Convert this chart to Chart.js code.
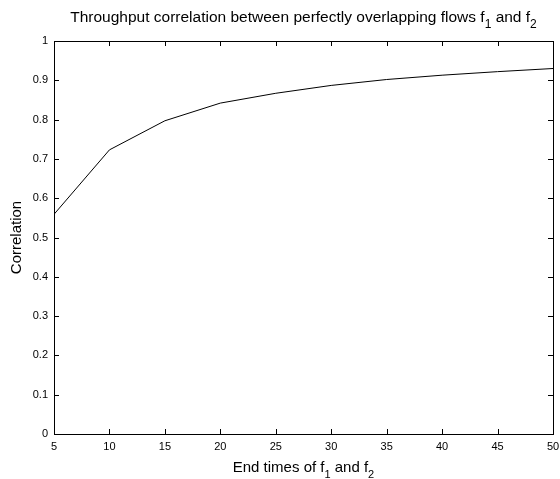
<!DOCTYPE html>
<html>
<head>
<meta charset="utf-8">
<script src="https://cdn.jsdelivr.net/npm/chart.js@4/dist/chart.umd.min.js"></script>
<style>
  html, body { margin: 0; padding: 0; background: #fff; }
  #wrap { width: 560px; height: 479px; }
</style>
</head>
<body>
<div id="wrap"><canvas id="corr-chart" width="560" height="479"></canvas></div>
<script>
/************/
/*** DATA ***/
/************/

// End times of f1 and f2:
const endTimes = [5, 10, 15, 20, 25, 30, 35, 40, 45, 50];
// Throughput correlation:
const correlation = [0.559, 0.723, 0.797, 0.842, 0.867, 0.887, 0.902, 0.913, 0.922, 0.930];
// Axis ticks:
const xTicks = [5, 10, 15, 20, 25, 30, 35, 40, 45, 50];
const yTicks = [0, 0.1, 0.2, 0.3, 0.4, 0.5, 0.6, 0.7, 0.8, 0.9, 1];

const FONT = '"Liberation Sans", Arial, sans-serif';

/***************/
/*** HELPERS ***/
/***************/

// Draw a string made of [text, isSubscript] parts, centred on x:
function drawSubText(ctx, parts, x, y, size) {
    const subSize = Math.round(size * 0.75);
    let total = 0;
    parts.forEach(([t, sub]) => {
        ctx.font = (sub ? subSize : size) + 'px ' + FONT;
        total += ctx.measureText(t).width;
    });
    let cx = x - total / 2;
    ctx.textAlign = 'left';
    ctx.textBaseline = 'alphabetic';
    parts.forEach(([t, sub]) => {
        ctx.font = (sub ? subSize : size) + 'px ' + FONT;
        ctx.fillText(t, cx, sub ? y + size * 0.4 : y);
        cx += ctx.measureText(t).width;
    });
}

// Box, inward ticks and titles (MATLAB look):
const framePlugin = {
    id: 'frame',
    afterDraw(chart) {
        const {ctx, chartArea: a, scales} = chart;
        ctx.save();
        ctx.strokeStyle = '#000';
        ctx.lineWidth = 1;
        ctx.strokeRect(Math.round(a.left) + 0.5, Math.round(a.top) + 0.5,
                       Math.round(a.right - a.left), Math.round(a.bottom - a.top));
        const len = 5;
        ctx.beginPath();
        xTicks.forEach(v => {
            const px = Math.round(scales.x.getPixelForValue(v)) + 0.5;
            ctx.moveTo(px, a.bottom); ctx.lineTo(px, a.bottom - len);
            ctx.moveTo(px, a.top); ctx.lineTo(px, a.top + len);
        });
        yTicks.forEach(v => {
            const py = Math.round(scales.y.getPixelForValue(v)) + 0.5;
            ctx.moveTo(a.left, py); ctx.lineTo(a.left + len, py);
            ctx.moveTo(a.right, py); ctx.lineTo(a.right - len, py);
        });
        ctx.stroke();

        ctx.fillStyle = '#000';
        const mid = (a.left + a.right) / 2;
        drawSubText(ctx, [['Throughput correlation between perfectly overlapping flows f', false], ['1', true],
                          [' and f', false], ['2', true]], mid, 22, 15.5);
        drawSubText(ctx, [['End times of f', false], ['1', true], [' and f', false], ['2', true]], mid, 472, 15);

        ctx.translate(21, (a.top + a.bottom) / 2);
        ctx.rotate(-Math.PI / 2);
        ctx.font = '15px ' + FONT;
        ctx.textAlign = 'center';
        ctx.textBaseline = 'alphabetic';
        ctx.fillText('Correlation', 0, 0);
        ctx.restore();
    }
};

/****************/
/*** PLOTTING ***/
/****************/

const ctx = document.getElementById('corr-chart');
const chart = new Chart(ctx, {
    type: 'line',
    data: {
        datasets: [{
            data: endTimes.map((t, i) => ({x: t, y: correlation[i]})),
            borderColor: '#000',
            borderWidth: 1,
            pointRadius: 0,
            tension: 0,
            fill: false
        }]
    },
    options: {
        responsive: false,
        animation: false,
        layout: {padding: {left: 0, right: 7, top: 41, bottom: 0}},
        plugins: {legend: {display: false}, tooltip: {enabled: false}, title: {display: false}},
        scales: {
            x: {
                type: 'linear', min: 5, max: 50,
                afterBuildTicks: s => { s.ticks = xTicks.map(v => ({value: v})); },
                afterFit: s => { s.height = 45; s.paddingLeft = 0; s.paddingRight = 0; },
                grid: {display: false, drawTicks: false},
                border: {display: false},
                ticks: {color: '#000', padding: 6, font: {family: FONT, size: 11}, maxRotation: 0, autoSkip: false}
            },
            y: {
                type: 'linear', min: 0, max: 1,
                afterBuildTicks: s => { s.ticks = yTicks.map(v => ({value: v})); },
                afterFit: s => { s.width = 54; s.paddingTop = 0; s.paddingBottom = 0; },
                grid: {display: false, drawTicks: false},
                border: {display: false},
                ticks: {color: '#000', padding: 6, font: {family: FONT, size: 11}, autoSkip: false,
                        callback: v => String(Math.round(v * 10) / 10)}
            }
        }
    },
    plugins: [framePlugin]
});
</script>
</body>
</html>
